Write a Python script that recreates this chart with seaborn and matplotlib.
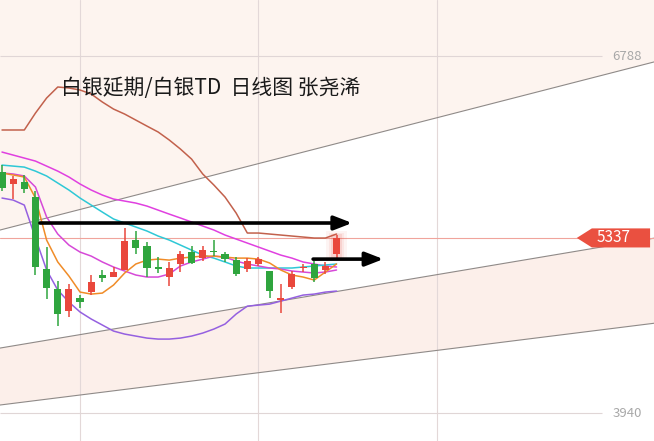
import numpy as np
import matplotlib
matplotlib.use("Agg")
import matplotlib.pyplot as plt
import seaborn as sns
from matplotlib.patches import Polygon

sns.set_theme(style="white")
plt.rcParams['font.family'] = ['Noto Sans CJK SC', 'DejaVu Sans']

title = "白银延期/白银TD  日线图 张尧浠"

# daily candles (price)
opens  = [5863, 5767, 5783, 5663, 5089, 4929, 4754, 4857, 4905, 5041, 5025, 5081, 5320, 5272, 5105, 5025,
          5129, 5224, 5176, 5232, 5208, 5160, 5089, 5129, 5073, 4841, 4945, 5097, 5129, 5081, 5208]
closes = [5735, 5807, 5727, 5105, 4937, 4730, 4929, 4825, 4985, 5017, 5065, 5312, 5256, 5097, 5089, 5097,
          5208, 5137, 5240, 5224, 5168, 5049, 5152, 5168, 4913, 4857, 5049, 5105, 5017, 5113, 5337]
highs  = [5918, 5831, 5839, 5711, 5264, 4993, 4969, 4881, 5041, 5081, 5105, 5416, 5392, 5304, 5184, 5145,
          5232, 5272, 5272, 5320, 5224, 5184, 5176, 5184, 5073, 4969, 5073, 5129, 5152, 5145, 5360]
lows   = [5711, 5647, 5695, 5041, 4849, 4634, 4706, 4778, 4881, 4985, 5025, 5081, 5208, 5025, 5057, 4953,
          5065, 5129, 5152, 5192, 5145, 5033, 5065, 5113, 4857, 4738, 4929, 5065, 4985, 5049, 5176]

# moving average lines, one value per candle
ma_orange  = [5855, 5839, 5823, 5655, 5320, 5145, 5033, 4905, 4889, 4897, 4961, 5057, 5129, 5160, 5168, 5160,
              5176, 5184, 5192, 5192, 5184, 5176, 5176, 5168, 5137, 5081, 5041, 5025, 5001, 5065, 5129]
ma_cyan    = [5918, 5910, 5902, 5870, 5831, 5775, 5719, 5655, 5599, 5543, 5488, 5456, 5424, 5392, 5352, 5320,
              5280, 5240, 5200, 5176, 5145, 5113, 5097, 5097, 5097, 5097, 5097, 5105, 5113, 5121, 5129]
ma_magenta = [6022, 5998, 5974, 5950, 5910, 5870, 5823, 5767, 5719, 5679, 5647, 5631, 5615, 5591, 5559, 5527,
              5496, 5464, 5432, 5400, 5360, 5328, 5296, 5264, 5232, 5200, 5176, 5145, 5129, 5113, 5105]
ma_pink    = [5855, 5847, 5831, 5743, 5504, 5368, 5280, 5224, 5192, 5145, 5105, 5073, 5041, 5025, 5025, 5049,
              5113, 5145, 5168, 5192, 5184, 5152, 5129, 5113, 5097, 5089, 5073, 5065, 5057, 5065, 5081]
ma_purple  = [5655, 5639, 5599, 5336, 5081, 4921, 4825, 4746, 4690, 4642, 4594, 4570, 4554, 4538, 4530, 4530,
              4538, 4554, 4578, 4610, 4650, 4730, 4793, 4801, 4809, 4833, 4857, 4881, 4889, 4905, 4913]
ma_brown   = [6198, 6198, 6198, 6333, 6453, 6541, 6533, 6517, 6485, 6421, 6365, 6325, 6277, 6229, 6182, 6118,
              6046, 5966, 5847, 5759, 5663, 5535, 5376, 5376, 5368, 5360, 5352, 5344, 5336, 5336, 5368]

# trend channel, (candle index, price)
trend_upper = [(0, 5404), (58, 6730)]
trend_mid = [(0, 4461), (58, 5328)]
trend_low = [(0, 4006), (58, 4651)]

arrow_1 = [(3.4, 5456), (31.4, 5456)]
arrow_2 = [(27.9, 5168), (34.2, 5168)]

last_price = 5337
scale_top, scale_bottom = 6788, 3940
grid_x = [7, 23, 39]

RED = "#e9473c"
GREEN = "#2fa53e"

fig = plt.figure(figsize=(6.54, 4.41), dpi=100)
ax = fig.add_axes([0, 0, 1, 1])
ax.set_xlim(-0.18, 58.47)
ax.set_ylim(3717, 7235)
ax.axis("off")


def line_at(pts, xs):
    (x1, y1), (x2, y2) = pts
    return y1 + (y2 - y1) / (x2 - x1) * (xs - x1)


# channel background
xs = np.array([-2.0, 60.0])
ax.fill_between(xs, line_at(trend_upper, xs), 7400, color="#fdf4ef", lw=0, zorder=0)
ax.fill_between(xs, line_at(trend_low, xs), line_at(trend_mid, xs), color="#fcefea", lw=0, zorder=0)
for pts in (trend_upper, trend_mid, trend_low):
    ax.plot(xs, line_at(pts, xs), color="#8f8a88", lw=0.8, zorder=1)

# grid
for gx in grid_x:
    ax.axvline(gx, color="#e3d8d8", lw=0.8, zorder=0.5)
ax.hlines([scale_top, scale_bottom], -0.18, 53.8, color="#e0d6d6", lw=0.8, zorder=0.5)
ax.axhline(last_price, color="#f0a49c", lw=0.8, zorder=1)

# moving averages
idx = np.arange(len(closes))
for ma, col in [(ma_brown, "#c2614c"), (ma_magenta, "#e040e0"), (ma_cyan, "#2ec8d6"),
                (ma_pink, "#d649d8"), (ma_purple, "#9560e0"), (ma_orange, "#f08c28")]:
    sns.lineplot(x=idx, y=ma, color=col, lw=1.1, ax=ax, zorder=3)

# candles
o = np.array(opens); c = np.array(closes)
cols = [RED if cc >= oo else GREEN for oo, cc in zip(o, c)]
ax.vlines(idx, lows, highs, color=cols, lw=1.1, zorder=4)
body = np.maximum(np.abs(c - o), 10)
ax.bar(idx, body, bottom=np.minimum(o, c), width=0.64, color=cols, lw=0, zorder=5)
# glow on last candle
for w, a in [(1.8, 0.06), (1.3, 0.08), (0.95, 0.12)]:
    ax.bar(idx[-1], body[-1] + 60 * w, bottom=min(o[-1], c[-1]) - 30 * w, width=w,
           color=RED, alpha=a, lw=0, zorder=4.5)

# arrows
for (x0, y0), (x1, y1) in (arrow_1, arrow_2):
    ax.annotate("", xy=(x1, y1), xytext=(x0, y0), zorder=6,
                arrowprops=dict(arrowstyle="-|>,head_length=0.9,head_width=0.35", color="black",
                                lw=2.6, shrinkA=0, shrinkB=0))

# price labels
tr = ax.get_yaxis_transform()
badge = Polygon([(0.882, last_price), (0.905, last_price + 76), (0.994, last_price + 76),
                 (0.994, last_price - 76), (0.905, last_price - 76)],
                closed=True, transform=tr, color="#ea5040", lw=0, zorder=7)
ax.add_patch(badge)
ax.text(0.938, last_price, str(last_price), transform=tr, color="white", fontsize=11,
        ha="center", va="center", zorder=8)
for v in (scale_top, scale_bottom):
    ax.text(0.982, v, str(v), transform=tr, color="#a8a8a8", fontsize=9.5, ha="right", va="center")

ax.text(0.093, 0.80, title, transform=ax.transAxes, fontsize=15, color="#1a1a1a",
        ha="left", va="center", zorder=8)

fig.savefig("out.png", dpi=100)
